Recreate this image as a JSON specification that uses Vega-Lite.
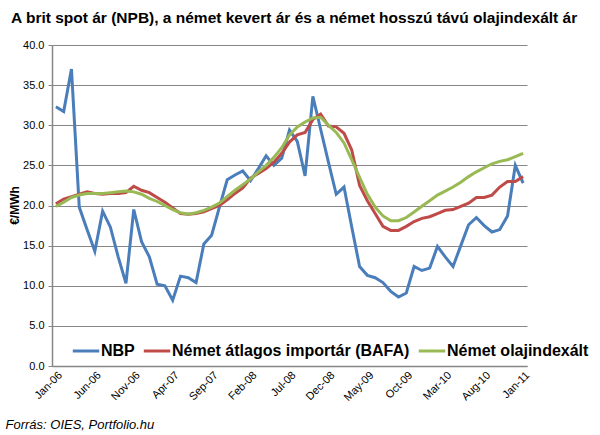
{
  "$schema": "https://vega.github.io/schema/vega-lite/v6.json",
  "width": 475,
  "height": 321,
  "autosize": {"type": "none"},
  "padding": {"left": 52, "top": 45, "right": 73, "bottom": 69},
  "background": "white",
  "title": {"text": "A brit spot ár (NPB), a német kevert ár és a német hosszú távú olajindexált ár", "anchor": "start", "dx": 6, "fontSize": 15.5, "font": "Liberation Sans", "fontWeight": "bold", "color": "black", "offset": 13},
  "config": {"view": {"stroke": null}, "font": "Liberation Sans"},
  "data": {"values": [
    {"m": "Jan-06", "NBP": 32.3, "BAFA": 20.2, "OIL": 19.9},
    {"m": "Feb-06", "NBP": 31.7, "BAFA": 20.8, "OIL": 20.4},
    {"m": "Mar-06", "NBP": 37.0, "BAFA": 21.1, "OIL": 21.0},
    {"m": "Apr-06", "NBP": 19.8, "BAFA": 21.4, "OIL": 21.3},
    {"m": "May-06", "NBP": 17.0, "BAFA": 21.7, "OIL": 21.5},
    {"m": "Jun-06", "NBP": 14.3, "BAFA": 21.5, "OIL": 21.5},
    {"m": "Jul-06", "NBP": 19.3, "BAFA": 21.4, "OIL": 21.5},
    {"m": "Aug-06", "NBP": 17.3, "BAFA": 21.5, "OIL": 21.6},
    {"m": "Sep-06", "NBP": 13.6, "BAFA": 21.5, "OIL": 21.7},
    {"m": "Oct-06", "NBP": 10.3, "BAFA": 21.6, "OIL": 21.8},
    {"m": "Nov-06", "NBP": 19.5, "BAFA": 22.4, "OIL": 21.7},
    {"m": "Dec-06", "NBP": 15.5, "BAFA": 21.9, "OIL": 21.4},
    {"m": "Jan-07", "NBP": 13.6, "BAFA": 21.6, "OIL": 20.9},
    {"m": "Feb-07", "NBP": 10.2, "BAFA": 21.0, "OIL": 20.5},
    {"m": "Mar-07", "NBP": 10.0, "BAFA": 20.4, "OIL": 20.0},
    {"m": "Apr-07", "NBP": 8.2, "BAFA": 19.7, "OIL": 19.5},
    {"m": "May-07", "NBP": 11.2, "BAFA": 19.0, "OIL": 19.1},
    {"m": "Jun-07", "NBP": 11.0, "BAFA": 18.9, "OIL": 18.9},
    {"m": "Jul-07", "NBP": 10.4, "BAFA": 19.0, "OIL": 19.1},
    {"m": "Aug-07", "NBP": 15.2, "BAFA": 19.2, "OIL": 19.4},
    {"m": "Sep-07", "NBP": 16.3, "BAFA": 19.6, "OIL": 19.8},
    {"m": "Oct-07", "NBP": 19.8, "BAFA": 20.0, "OIL": 20.3},
    {"m": "Nov-07", "NBP": 23.2, "BAFA": 20.7, "OIL": 21.1},
    {"m": "Dec-07", "NBP": 23.8, "BAFA": 21.5, "OIL": 21.9},
    {"m": "Jan-08", "NBP": 24.3, "BAFA": 22.2, "OIL": 22.6},
    {"m": "Feb-08", "NBP": 23.1, "BAFA": 23.4, "OIL": 23.3},
    {"m": "Mar-08", "NBP": 24.6, "BAFA": 24.0, "OIL": 24.2},
    {"m": "Apr-08", "NBP": 26.2, "BAFA": 24.6, "OIL": 25.0},
    {"m": "May-08", "NBP": 25.0, "BAFA": 25.4, "OIL": 26.0},
    {"m": "Jun-08", "NBP": 25.9, "BAFA": 26.5, "OIL": 27.2},
    {"m": "Jul-08", "NBP": 29.4, "BAFA": 27.9, "OIL": 28.8},
    {"m": "Aug-08", "NBP": 28.0, "BAFA": 28.8, "OIL": 29.8},
    {"m": "Sep-08", "NBP": 23.7, "BAFA": 29.1, "OIL": 30.4},
    {"m": "Oct-08", "NBP": 33.6, "BAFA": 30.7, "OIL": 30.9},
    {"m": "Nov-08", "NBP": 29.5, "BAFA": 31.4, "OIL": 31.0},
    {"m": "Dec-08", "NBP": 25.4, "BAFA": 29.9, "OIL": 30.0},
    {"m": "Jan-09", "NBP": 21.4, "BAFA": 29.8, "OIL": 29.1},
    {"m": "Feb-09", "NBP": 22.3, "BAFA": 29.0, "OIL": 27.8},
    {"m": "Mar-09", "NBP": 17.3, "BAFA": 26.9, "OIL": 25.7},
    {"m": "Apr-09", "NBP": 12.4, "BAFA": 22.5, "OIL": 23.5},
    {"m": "May-09", "NBP": 11.3, "BAFA": 20.6, "OIL": 21.4},
    {"m": "Jun-09", "NBP": 11.0, "BAFA": 19.0, "OIL": 19.8},
    {"m": "Jul-09", "NBP": 10.4, "BAFA": 17.4, "OIL": 18.7},
    {"m": "Aug-09", "NBP": 9.3, "BAFA": 16.9, "OIL": 18.1},
    {"m": "Sep-09", "NBP": 8.6, "BAFA": 16.9, "OIL": 18.1},
    {"m": "Oct-09", "NBP": 9.1, "BAFA": 17.4, "OIL": 18.5},
    {"m": "Nov-09", "NBP": 12.4, "BAFA": 18.0, "OIL": 19.2},
    {"m": "Dec-09", "NBP": 11.9, "BAFA": 18.4, "OIL": 19.9},
    {"m": "Jan-10", "NBP": 12.2, "BAFA": 18.6, "OIL": 20.6},
    {"m": "Feb-10", "NBP": 14.9, "BAFA": 19.0, "OIL": 21.3},
    {"m": "Mar-10", "NBP": 13.6, "BAFA": 19.4, "OIL": 21.8},
    {"m": "Apr-10", "NBP": 12.4, "BAFA": 19.5, "OIL": 22.3},
    {"m": "May-10", "NBP": 15.0, "BAFA": 19.9, "OIL": 22.9},
    {"m": "Jun-10", "NBP": 17.6, "BAFA": 20.3, "OIL": 23.6},
    {"m": "Jul-10", "NBP": 18.5, "BAFA": 21.0, "OIL": 24.2},
    {"m": "Aug-10", "NBP": 17.5, "BAFA": 21.0, "OIL": 24.7},
    {"m": "Sep-10", "NBP": 16.7, "BAFA": 21.3, "OIL": 25.2},
    {"m": "Oct-10", "NBP": 17.0, "BAFA": 22.3, "OIL": 25.5},
    {"m": "Nov-10", "NBP": 18.7, "BAFA": 23.0, "OIL": 25.7},
    {"m": "Dec-10", "NBP": 25.0, "BAFA": 23.0, "OIL": 26.1},
    {"m": "Jan-11", "NBP": 22.8, "BAFA": 23.6, "OIL": 26.5}
  ]},
  "transform": [{"fold": ["NBP", "BAFA", "OIL"], "as": ["s", "v"]}],
  "mark": {"type": "line", "strokeWidth": 3},
  "encoding": {
    "x": {
      "field": "m", "type": "ordinal", "sort": null,
      "scale": {"type": "point", "padding": 0.5},
      "axis": {
        "values": ["Jan-06", "Jun-06", "Nov-06", "Apr-07", "Sep-07", "Feb-08", "Jul-08", "Dec-08", "May-09", "Oct-09", "Mar-10", "Aug-10", "Jan-11"],
        "labelAngle": -45, "labelFontSize": 11, "labelColor": "black", "labelPadding": 3,
        "ticks": false, "domainColor": "#868686", "domainWidth": 1.5, "grid": false,
        "title": "Forrás: OIES, Portfolio.hu", "titleFontStyle": "italic", "titleFontWeight": "normal",
        "titleFontSize": 13, "titleColor": "black", "titleX": -47, "titleY": 62,
        "titleAlign": "left", "titleBaseline": "alphabetic", "titleAnchor": "start"
      }
    },
    "y": {
      "field": "v", "type": "quantitative",
      "scale": {"domain": [0, 40]},
      "axis": {
        "values": [0, 5, 10, 15, 20, 25, 30, 35, 40], "format": ".1f",
        "labelFontSize": 11, "labelColor": "black", "labelPadding": 4,
        "tickSize": 4, "tickColor": "#868686",
        "gridColor": "#868686", "gridWidth": 1, "domainColor": "#868686", "domainWidth": 1.5,
        "title": "€/MWh", "titleFontSize": 12, "titleFontWeight": "bold", "titleColor": "black",
        "titleX": -38, "titleY": 160, "titleAngle": -90, "titleAlign": "center", "titleBaseline": "middle"
      }
    },
    "color": {
      "field": "s", "type": "nominal",
      "scale": {"domain": ["NBP", "BAFA", "OIL"], "range": ["#4A7EBB", "#BE4B48", "#98B954"]},
      "legend": {
        "orient": "none", "legendX": 19, "legendY": 291, "direction": "horizontal", "title": null,
        "symbolType": "stroke", "symbolStrokeWidth": 3, "symbolSize": 700,
        "labelFontSize": 16, "labelFontWeight": "bold", "labelColor": "black", "labelOffset": 0, "columnPadding": 2, "labelLimit": 400,
        "labelExpr": "datum.label == 'BAFA' ? 'Német átlagos importár (BAFA)' : datum.label == 'OIL' ? 'Német olajindexált' : datum.label"
      }
    }
  }
}
